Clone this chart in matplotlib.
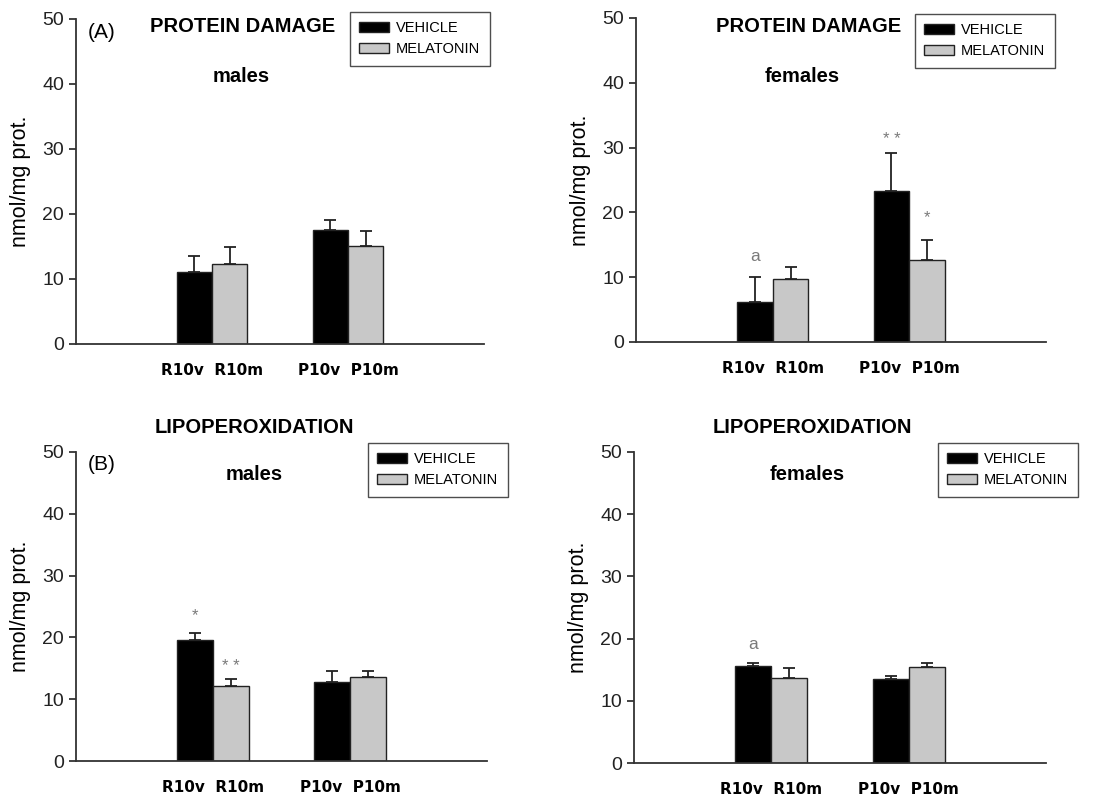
import matplotlib
matplotlib.use("Agg")
import matplotlib.pyplot as plt
from matplotlib.patches import Patch

plt.rcParams['font.family'] = ['Liberation Sans', 'DejaVu Sans']

groups = ['R10v  R10m', 'P10v  P10m']

# protein damage, males
pm_veh = [11.0, 17.5]
pm_veh_err = [2.6, 1.6]
pm_mel = [12.3, 15.0]
pm_mel_err = [2.6, 2.4]

# protein damage, females
pf_veh = [6.2, 23.3]
pf_veh_err = [3.9, 5.8]
pf_mel = [9.75, 12.65]
pf_mel_err = [1.85, 3.1]

# lipoperoxidation, males
lm_veh = [19.6, 12.75]
lm_veh_err = [1.05, 1.75]
lm_mel = [12.1, 13.6]
lm_mel_err = [1.1, 0.9]

# lipoperoxidation, females
lf_veh = [15.6, 13.45]
lf_veh_err = [0.4, 0.55]
lf_mel = [13.6, 15.4]
lf_mel_err = [1.6, 0.6]

# significance marks: (group, series, y, text)
pm_marks = []
pf_marks = [(0, 0, 13.2, 'a'), (1, 0, 31.3, '* *'), (1, 1, 19.2, '*')]
lm_marks = [(0, 0, 23.5, '*'), (0, 1, 15.35, '* *')]
lf_marks = [(0, 0, 19.0, 'a')]

W, H = 1094, 797
fig = plt.figure(figsize=(W / 100, H / 100), dpi=100)


def px_axes(x0, x1, y0, y1):
    return fig.add_axes([x0 / W, 1 - y1 / H, (x1 - x0) / W, (y1 - y0) / H])


centers = [10 / 3, 20 / 3]
bw = 0.87


def panel(ax, veh, veh_err, mel, mel_err, marks):
    xv = [c - bw / 2 for c in centers]
    xm = [c + bw / 2 for c in centers]
    ax.bar(xv, veh, bw, color='black', edgecolor='#222222', linewidth=1.0,
           yerr=[[0] * len(veh), veh_err], capsize=4.5,
           error_kw=dict(ecolor='#222222', elinewidth=1.3, capthick=1.3))
    ax.bar(xm, mel, bw, color='#c8c8c8', edgecolor='#222222', linewidth=1.0,
           yerr=[[0] * len(mel), mel_err], capsize=4.5,
           error_kw=dict(ecolor='#222222', elinewidth=1.3, capthick=1.3))
    for g, s, y, t in marks:
        x = xv[g] if s == 0 else xm[g]
        ax.text(x, y, t, ha='center', va='center', color='#7a7a7a',
                fontsize=12.5 if t == 'a' else 12)
    ax.set_xlim(0, 10)
    ax.set_ylim(0, 50)
    ax.set_yticks([0, 10, 20, 30, 40, 50])
    ax.set_xticks(centers)
    ax.set_xticklabels(groups, fontsize=11, fontweight='bold',
                       family='DejaVu Sans')
    ax.tick_params(axis='x', length=0, pad=14)
    ax.tick_params(axis='y', length=5, width=1.2, labelsize=14,
                   colors='#222222', direction='out')
    for sp in ['top', 'right']:
        ax.spines[sp].set_visible(False)
    for sp in ['left', 'bottom']:
        ax.spines[sp].set_linewidth(1.3)
        ax.spines[sp].set_color('#333333')
    ax.set_ylabel('nmol/mg prot.', fontsize=15.5, labelpad=8)


def legend(ax, x0, y0):
    handles = [Patch(facecolor='black', edgecolor='#222222', label='VEHICLE'),
               Patch(facecolor='#c8c8c8', edgecolor='#222222', label='MELATONIN')]
    lg = ax.legend(handles=handles, loc='upper left',
                   bbox_to_anchor=(x0 / W, 1 - y0 / H),
                   bbox_transform=fig.transFigure, fontsize=10.5,
                   frameon=True, fancybox=False, edgecolor='#222222',
                   handlelength=2.0, handleheight=0.7, handletextpad=0.5,
                   labelspacing=0.45, borderpad=0.65, borderaxespad=0)
    lg.get_frame().set_linewidth(1.0)


def ftext(x, y, t, **kw):
    fig.text(x / W, 1 - y / H, t, ha='center', va='center', **kw)


ax1 = px_axes(76, 484, 19, 344)
panel(ax1, pm_veh, pm_veh_err, pm_mel, pm_mel_err, pm_marks)
legend(ax1, 350, 12)
ftext(243, 26, 'PROTEIN DAMAGE', fontsize=14.5, fontweight='bold')
ftext(241, 76, 'males', fontsize=14.5, fontweight='bold')
ftext(102, 33, '(A)', fontsize=15)

ax2 = px_axes(636, 1046, 18, 342)
panel(ax2, pf_veh, pf_veh_err, pf_mel, pf_mel_err, pf_marks)
legend(ax2, 915, 14)
ftext(809, 26, 'PROTEIN DAMAGE', fontsize=14.5, fontweight='bold')
ftext(802, 77, 'females', fontsize=14.5, fontweight='bold')

ax3 = px_axes(76, 487, 452, 761)
panel(ax3, lm_veh, lm_veh_err, lm_mel, lm_mel_err, lm_marks)
legend(ax3, 368, 443)
ftext(254, 427, 'LIPOPEROXIDATION', fontsize=14.5, fontweight='bold')
ftext(254, 475, 'males', fontsize=14.5, fontweight='bold')
ftext(102, 465, '(B)', fontsize=15)

ax4 = px_axes(634, 1046, 452, 763)
panel(ax4, lf_veh, lf_veh_err, lf_mel, lf_mel_err, lf_marks)
legend(ax4, 938, 443)
ftext(812, 427, 'LIPOPEROXIDATION', fontsize=14.5, fontweight='bold')
ftext(807, 475, 'females', fontsize=14.5, fontweight='bold')

fig.savefig('out.png', dpi=100)
